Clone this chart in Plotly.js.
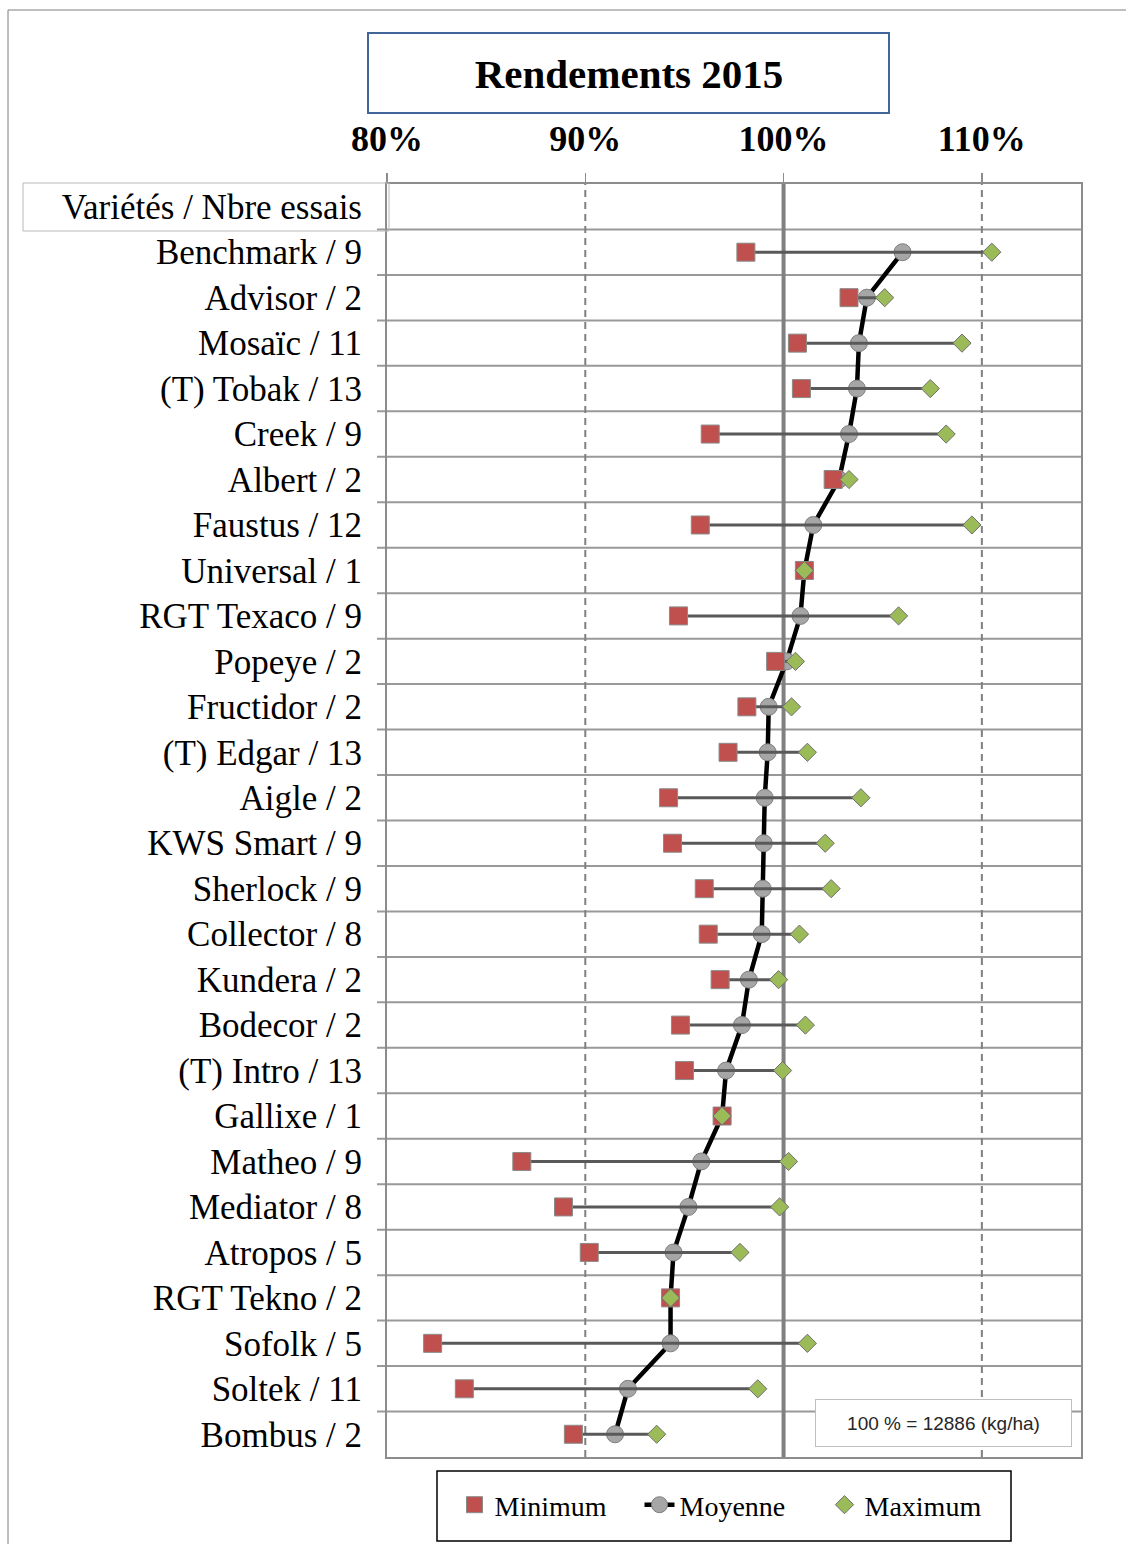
<!DOCTYPE html>
<html>
<head>
<meta charset="utf-8">
<script src="https://cdn.plot.ly/plotly-3.0.1.min.js"></script>
<style>html,body{margin:0;padding:0;background:#fff;}#chart{width:1126px;height:1544px;}</style>
</head>
<body>
<div id="chart"></div>
<script>
// ---- Data ----
const chartTitle = 'Rendements 2015';
const headerLabel = 'Variétés / Nbre essais';
const varieties = ['Benchmark / 9','Advisor / 2','Mosaïc / 11','(T) Tobak / 13','Creek / 9','Albert / 2','Faustus / 12','Universal / 1','RGT Texaco / 9','Popeye / 2','Fructidor / 2','(T) Edgar / 13','Aigle / 2','KWS Smart / 9','Sherlock / 9','Collector / 8','Kundera / 2','Bodecor / 2','(T) Intro / 13','Gallixe / 1','Matheo / 9','Mediator / 8','Atropos / 5','RGT Tekno / 2','Sofolk / 5','Soltek / 11','Bombus / 2'];
const minimum = [98.1,103.3,100.7,100.9,96.3,102.5,95.8,101.05,94.7,99.6,98.15,97.2,94.2,94.4,96.0,96.2,96.8,94.8,95.0,96.9,86.8,88.9,90.2,94.3,82.3,83.9,89.4];
const moyenne = [106.0,104.2,103.8,103.7,103.3,102.8,101.5,101.05,100.85,100.15,99.25,99.2,99.05,99.0,98.95,98.9,98.25,97.9,97.1,96.9,95.85,95.2,94.45,94.3,94.3,92.15,91.5];
const maximum = [110.5,105.1,109.0,107.4,108.2,103.3,109.5,101.05,105.8,100.6,100.4,101.2,103.9,102.1,102.4,100.8,99.75,101.1,99.95,96.9,100.25,99.8,97.8,94.3,101.2,98.7,93.6];
const xTickVals = [80, 90, 100, 110];
const xTickText = ['80%', '90%', '100%', '110%'];
const seriesNames = ['Minimum', 'Moyenne', 'Maximum'];
const noteText = '100 % = 12886 (kg/ha)';

// ---- Layout geometry (pixels) ----
const W = 1126, H = 1544;
const L = 387, R = 1081, T = 184, B = 1457;
const pw = R - L, ph = B - T;
const px = v => (v - L) / pw;      // pixel x -> paper
const py = v => (B - v) / ph;      // pixel y -> paper

const rows = varieties.map((v, i) => i + 1);
const nRows = varieties.length + 1;

const serif = 'Liberation Serif, Times New Roman, serif';

// range segments
const segX = [], segY = [];
varieties.forEach((v, i) => { segX.push(minimum[i], maximum[i], null); segY.push(rows[i], rows[i], null); });

const traces = [
  { type: 'scatter', mode: 'lines+markers', name: seriesNames[1], x: moyenne, y: rows, legendrank: 2,
    line: { color: '#000000', width: 4.5 },
    marker: { symbol: 'circle', size: 17, color: '#a6a6a6', line: { color: '#7f7f7f', width: 1 } },
    hoverinfo: 'x+y' },
  { type: 'scatter', mode: 'lines', x: segX, y: segY, showlegend: false,
    line: { color: '#595959', width: 3 }, hoverinfo: 'skip' },
  { type: 'scatter', mode: 'markers', name: seriesNames[0], x: minimum, y: rows, legendrank: 1,
    marker: { symbol: 'square', size: 18, color: '#c0504d', line: { color: '#8a8a8a', width: 1 } } },
  { type: 'scatter', mode: 'markers', name: seriesNames[2], x: maximum, y: rows, legendrank: 3,
    marker: { symbol: 'diamond', size: 14, color: '#9bbb59', line: { color: '#6f6f6f', width: 1 } } }
];

const shapes = [];
// outer frame
shapes.push({ type: 'rect', xref: 'paper', yref: 'paper', x0: px(8), x1: px(1140), y0: py(1560), y1: py(10),
  line: { color: '#7f7f7f', width: 1 }, fillcolor: 'rgba(0,0,0,0)', layer: 'below' });
// title box
shapes.push({ type: 'rect', xref: 'paper', yref: 'paper', x0: px(368), x1: px(889), y0: py(113), y1: py(33),
  line: { color: '#41669a', width: 2 }, fillcolor: 'rgba(0,0,0,0)' });
// header label box
shapes.push({ type: 'rect', xref: 'paper', yref: 'paper', x0: px(23), x1: px(389), y0: py(231), y1: py(183),
  line: { color: '#b8b8b8', width: 1 }, fillcolor: 'rgba(0,0,0,0)' });
// horizontal row separators
for (let i = 0; i < nRows - 1; i++) {
  shapes.push({ type: 'line', xref: 'paper', yref: 'y', x0: px(377), x1: 1, y0: i + 0.5, y1: i + 0.5,
    line: { color: '#999999', width: 2 }, layer: 'below' });
}
// vertical reference lines
xTickVals.slice(1).forEach(v => {
  shapes.push({ type: 'line', xref: 'x', yref: 'paper', x0: v, x1: v, y0: 0, y1: 1,
    line: v === 100 ? { color: '#808080', width: 4 } : { color: '#808080', width: 2, dash: '7px,5px' },
    layer: 'below' });
});
// legend box
shapes.push({ type: 'rect', xref: 'paper', yref: 'paper', x0: px(437), x1: px(1011), y0: py(1541), y1: py(1471),
  line: { color: '#000000', width: 1.5 }, fillcolor: 'rgba(0,0,0,0)' });

const layout = {
  width: W, height: H,
  margin: { l: L, r: W - R, t: T, b: H - B, pad: 0 },
  paper_bgcolor: '#ffffff', plot_bgcolor: '#ffffff',
  showlegend: true,
  title: { text: chartTitle, xref: 'paper', x: px(629), xanchor: 'center', y: 1 - 74 / H, yanchor: 'middle',
    font: { family: serif, size: 41, color: '#000000', weight: 'bold' } },
  xaxis: {
    range: [80, 115], side: 'top', tickmode: 'array', tickvals: xTickVals, ticktext: xTickText,
    tickfont: { family: serif, size: 36, color: '#000000', weight: 'bold' },
    ticks: 'outside', ticklen: 9, tickwidth: 1.5, tickcolor: '#8c8c8c', ticklabelstandoff: 8,
    showgrid: false, zeroline: false, showline: true, mirror: true, linecolor: '#8c8c8c', linewidth: 2,
    fixedrange: true
  },
  yaxis: {
    range: [nRows - 0.5, -0.5], tickmode: 'array',
    tickvals: [0].concat(rows), ticktext: [headerLabel].concat(varieties),
    tickfont: { family: serif, size: 35, color: '#000000' },
    ticks: '', ticklabelstandoff: 16,
    showgrid: false, zeroline: false, showline: true, mirror: true, linecolor: '#8c8c8c', linewidth: 2,
    fixedrange: true
  },
  legend: { orientation: 'h', x: px(732), xanchor: 'center', y: py(1505), yanchor: 'middle',
    font: { family: serif, size: 28, color: '#000000' }, bgcolor: 'rgba(0,0,0,0)', borderwidth: 0,
    traceorder: 'normal', itemwidth: 30, entrywidth: 140 },
  shapes: shapes,
  annotations: [
    { text: noteText, xref: 'paper', yref: 'paper', x: px(815), xanchor: 'left', y: py(1423), yanchor: 'middle',
      showarrow: false, width: 255, height: 46, align: 'center', bgcolor: '#ffffff',
      bordercolor: '#bfbfbf', borderwidth: 1, borderpad: 0,
      font: { family: 'Liberation Sans, Arial, sans-serif', size: 19, color: '#262626' } }
  ]
};

Plotly.newPlot('chart', traces, layout, { displayModeBar: false, staticPlot: true });
</script>
</body>
</html>
